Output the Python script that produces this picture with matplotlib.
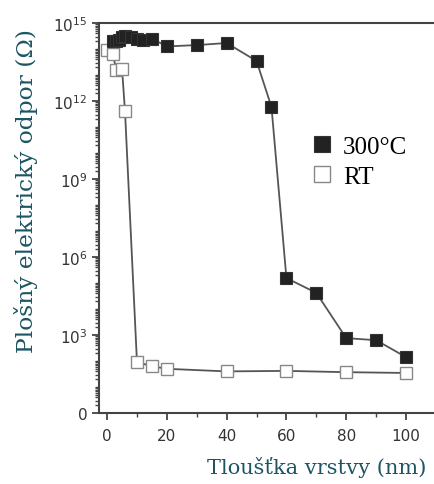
import matplotlib
matplotlib.use("Agg")
import matplotlib.pyplot as plt
import matplotlib.ticker as mticker
import numpy as np

# thickness (nm) and sheet resistance (log10 of ohm)
x_300 = [2, 3, 4, 5, 6, 8, 10, 12, 15, 20, 30, 40, 50, 55, 60, 70, 80, 90, 100]
logr_300 = [14.3, 14.3, 14.35, 14.45, 14.5, 14.45, 14.4, 14.35, 14.4,
            14.1, 14.15, 14.23, 13.54, 11.77, 5.19, 4.62, 2.88, 2.8, 2.15]

x_rt = [0, 2, 3, 5, 6, 10, 15, 20, 40, 60, 80, 100]
logr_rt = [13.95, 13.8, 13.2, 13.25, 11.6, 1.96, 1.8, 1.7, 1.6, 1.62, 1.57, 1.54]

ytick_vals = [1, 1e3, 1e6, 1e9, 1e12, 1e15]
ytick_labels = ["0", "$10^3$", "$10^6$", "$10^9$", "$10^{12}$", "$10^{15}$"]
xtick_vals = [0, 20, 40, 60, 80, 100]

teal = "#1d5563"
axcol = "#444444"

fig = plt.figure(figsize=(4.35, 4.85), dpi=100)
ax = fig.add_axes([99 / 435, 1 - 414 / 485, 1 - 99 / 435, (414 - 24) / 485])

ax.plot(x_300, np.power(10.0, logr_300), color="#555555", lw=1.3,
        marker="s", ms=8, mfc="#222222", mec="#333333", mew=0.8,
        label="300°C", zorder=3)
ax.plot(x_rt, np.power(10.0, logr_rt), color="#555555", lw=1.3,
        marker="s", ms=8, mfc="white", mec="#888888", mew=1.0,
        label="RT", zorder=2)

ax.set_yscale("log")
ax.set_ylim(1, 1e15)
ax.set_xlim(-2.7, 109.7)

ax.set_yticks(ytick_vals)
ax.set_yticklabels(ytick_labels)
ax.yaxis.set_minor_locator(mticker.LogLocator(base=10, subs=np.arange(1, 10), numticks=100))
ax.yaxis.set_minor_formatter(mticker.NullFormatter())
ax.set_xticks(xtick_vals)
ax.xaxis.set_minor_locator(mticker.MultipleLocator(10))

ax.tick_params(axis="both", which="major", direction="out", length=5, width=1.3,
               colors=axcol, labelsize=11, labelcolor="#333333")
ax.tick_params(axis="both", which="minor", direction="out", length=3, width=1.0,
               colors=axcol)
ax.tick_params(axis="x", pad=6)

for side in ["left", "bottom", "top"]:
    ax.spines[side].set_color(axcol)
    ax.spines[side].set_linewidth(1.5)
ax.spines["right"].set_visible(False)

leg = ax.legend(loc="upper left", bbox_to_anchor=(0.57, 0.77), frameon=False,
                prop={"family": "Liberation Serif", "size": 18},
                handlelength=0.7, handletextpad=0.5, labelspacing=0.3,
                numpoints=1)
for h in leg.legend_handles:
    h.set_linestyle("none")
    h.set_markersize(11)

fig.text(26 / 435, 1 - 191 / 485, "Plošný elektrický odpor (Ω)", rotation=90,
         ha="center", va="center", color=teal, family="DejaVu Serif", fontsize=16.8)
fig.text(426 / 435, 1 - 468 / 485, "Tloušťka vrstvy (nm)", ha="right", va="center",
         color=teal, family="DejaVu Serif", fontsize=15)

fig.savefig("out.png", dpi=100)
